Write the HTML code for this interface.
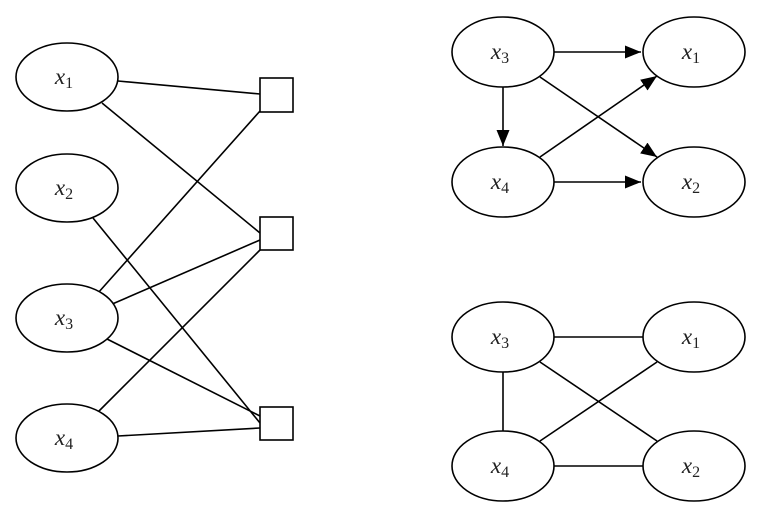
<!DOCTYPE html>
<html><head><meta charset="utf-8"><style>body{margin:0;background:#fff}</style></head><body>
<svg width="765" height="510" viewBox="0 0 765 510" xmlns="http://www.w3.org/2000/svg">
<defs><marker id="a" viewBox="0 0 10 10" refX="10" refY="5" markerWidth="10" markerHeight="10" markerUnits="userSpaceOnUse" orient="auto"><path d="M0,0.5L10,5L0,9.5z" fill="#000"/></marker>
<marker id="b" viewBox="0 0 10 10" refX="10" refY="5" markerWidth="16" markerHeight="13" markerUnits="userSpaceOnUse" orient="auto" preserveAspectRatio="none"><path d="M0,0L10,5L0,10z" fill="#000"/></marker></defs>
<g stroke="#000" stroke-width="1.6" fill="none">
<line x1="118" y1="81" x2="260" y2="94"/>
<line x1="102" y1="103" x2="260" y2="233"/>
<line x1="93" y1="218" x2="260" y2="423"/>
<line x1="98" y1="293" x2="260" y2="111"/>
<line x1="110" y1="305" x2="260" y2="240"/>
<line x1="107" y1="339" x2="260" y2="416"/>
<line x1="98" y1="412" x2="260" y2="250"/>
<line x1="118" y1="436" x2="260" y2="428"/>
<rect x="260" y="78" width="33" height="34" fill="#fff"/>
<rect x="260" y="217" width="33" height="33" fill="#fff"/>
<rect x="260" y="407" width="33" height="33" fill="#fff"/>
<ellipse cx="67" cy="77" rx="51" ry="34" fill="#fff"/>
<ellipse cx="67" cy="188" rx="51" ry="34" fill="#fff"/>
<ellipse cx="67" cy="318" rx="51" ry="34" fill="#fff"/>
<ellipse cx="67" cy="438" rx="51" ry="34" fill="#fff"/>

<line x1="554" y1="52" x2="641" y2="52" marker-end="url(#b)"/>
<line x1="540" y1="77" x2="657" y2="157" marker-end="url(#b)"/>
<line x1="503" y1="87" x2="503" y2="146" marker-end="url(#b)"/>
<line x1="540" y1="157" x2="657" y2="76" marker-end="url(#b)"/>
<line x1="554" y1="182" x2="641" y2="182" marker-end="url(#b)"/>
<ellipse cx="503" cy="52" rx="51" ry="35"/>
<ellipse cx="694" cy="52" rx="51" ry="35"/>
<ellipse cx="503" cy="182" rx="51" ry="35"/>
<ellipse cx="694" cy="182" rx="51" ry="35"/>

<line x1="554" y1="337" x2="643" y2="337"/>
<line x1="540" y1="362" x2="657" y2="441"/>
<line x1="503" y1="372" x2="503" y2="431"/>
<line x1="540" y1="441" x2="657" y2="362"/>
<line x1="554" y1="466" x2="643" y2="466"/>
<ellipse cx="503" cy="337" rx="51" ry="35"/>
<ellipse cx="694" cy="337" rx="51" ry="35"/>
<ellipse cx="503" cy="466" rx="51" ry="35"/>
<ellipse cx="694" cy="466" rx="51" ry="35"/>
</g>
<g font-family="Liberation Serif, serif" font-size="23" fill="#222" text-anchor="middle">
<text x="64" y="84"><tspan font-style="italic">x</tspan><tspan font-size="16" dy="4">1</tspan></text>
<text x="64" y="195"><tspan font-style="italic">x</tspan><tspan font-size="16" dy="4">2</tspan></text>
<text x="64" y="325"><tspan font-style="italic">x</tspan><tspan font-size="16" dy="4">3</tspan></text>
<text x="64" y="445"><tspan font-style="italic">x</tspan><tspan font-size="16" dy="4">4</tspan></text>
<text x="500" y="59"><tspan font-style="italic">x</tspan><tspan font-size="16" dy="4">3</tspan></text>
<text x="691" y="59"><tspan font-style="italic">x</tspan><tspan font-size="16" dy="4">1</tspan></text>
<text x="500" y="189"><tspan font-style="italic">x</tspan><tspan font-size="16" dy="4">4</tspan></text>
<text x="691" y="189"><tspan font-style="italic">x</tspan><tspan font-size="16" dy="4">2</tspan></text>
<text x="500" y="344"><tspan font-style="italic">x</tspan><tspan font-size="16" dy="4">3</tspan></text>
<text x="691" y="344"><tspan font-style="italic">x</tspan><tspan font-size="16" dy="4">1</tspan></text>
<text x="500" y="473"><tspan font-style="italic">x</tspan><tspan font-size="16" dy="4">4</tspan></text>
<text x="691" y="473"><tspan font-style="italic">x</tspan><tspan font-size="16" dy="4">2</tspan></text>
</g>
</svg>
</body></html>
